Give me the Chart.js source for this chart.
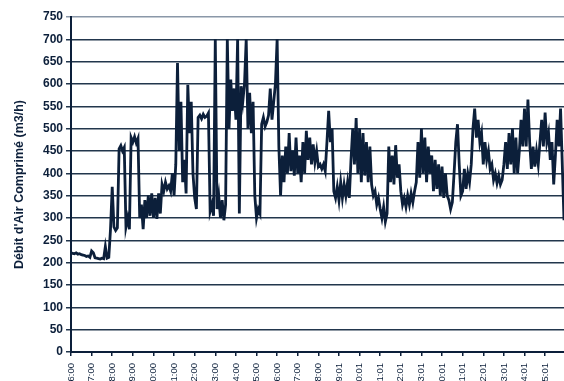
<!DOCTYPE html>
<html>
<head>
<meta charset="utf-8">
<script src="https://cdn.jsdelivr.net/npm/chart.js@4"></script>
<style>
  html, body { margin: 0; padding: 0; background: #ffffff; overflow: hidden; }
  #wrap { width: 564px; height: 381px; }
</style>
</head>
<body>
<div id="wrap"><canvas id="c" width="564" height="381"></canvas></div>
<script>
// Hour labels along the time axis (one tick every 60 minutes from 6:00)
const hourLabels = [
  "6:00", "7:00", "8:00", "9:00", "10:00", "11:00", "12:00", "13:00",
  "14:00", "15:00", "16:00", "17:00", "18:00", "19:01", "20:01", "21:01",
  "22:01", "23:01", "0:01", "1:01", "2:01", "3:01", "4:01", "5:01"
];

// Sampling interval of the recorded flow, in minutes
const stepMinutes = 5;

// Compressed-air flow readings (m3/h), one every 5 minutes from 6:00
const flow = [
  222, 221, 220, 222, 219, 220, 218, 217, 216, 214, 215, 212, 226, 222, 211, 210,
  209, 208, 210, 209, 236, 210, 212, 275, 370, 280, 272, 278, 455, 462, 450, 458,
  280, 300, 275, 480, 470, 482, 468, 478, 300, 330, 275, 340, 300, 350, 305, 355,
  300, 345, 298, 355, 310, 375, 360, 380, 365, 372, 360, 400, 350, 420, 647, 450,
  560, 380, 430, 355, 598, 490, 560, 400, 345, 320, 525, 530, 522, 532, 525, 528,
  535, 315, 330, 305, 700, 320, 350, 300, 340, 295, 330, 700, 500, 610, 540, 590,
  520, 700, 310, 595, 560, 600, 700, 500, 580, 490, 560, 350, 300, 320, 310, 510,
  525, 505, 515, 530, 590, 520, 560, 600, 700, 460, 350, 440, 380, 460, 400, 490,
  405, 450, 395, 480, 400, 440, 380, 470, 400, 495, 430, 480, 420, 465, 425, 450,
  415, 420, 410, 420, 405, 470, 540, 470, 500, 360, 345, 370, 340, 380, 345, 375,
  350, 380, 345, 430, 500, 420, 524, 400, 500, 380, 490, 395, 470, 380, 460, 375,
  350, 360, 330, 345, 320, 300, 325, 292, 310, 460, 380, 440, 375, 463, 390, 420,
  360, 330, 345, 325, 350, 330, 355, 335, 360, 380, 470, 390, 500, 400, 480, 380,
  460, 400, 440, 360, 430, 365, 420, 350, 415, 345, 400, 350, 340, 320, 335, 400,
  470, 510, 420, 350, 360, 410, 365, 400, 380, 420, 500, 545, 480, 520, 470, 490,
  420, 470, 430, 450, 410, 420, 385, 400, 378, 395, 375, 385, 420, 470, 410, 490,
  420, 500, 400, 480, 400, 450, 520, 460, 545, 460, 565, 470, 410, 460, 415, 450,
  420, 470, 520, 460, 536, 470, 490, 430, 470, 375, 440, 520, 460, 545, 420, 295
];

const points = flow.map((v, i) => ({ x: i * stepMinutes, y: v }));

const ink = '#0c1f3a';
const family = '"Liberation Sans", Arial, Helvetica, sans-serif';

new Chart(document.getElementById('c').getContext('2d'), {
  type: 'line',
  data: {
    datasets: [{
      data: points,
      borderColor: ink,
      borderWidth: 2.8,
      borderJoinStyle: 'miter',
      pointRadius: 0,
      tension: 0,
      fill: false
    }]
  },
  options: {
    responsive: false,
    animation: false,
    events: [],
    layout: { padding: { top: 17, right: 0, left: 0, bottom: 0 } },
    plugins: { legend: { display: false }, tooltip: { enabled: false } },
    scales: {
      x: {
        type: 'linear',
        min: 0,
        max: 1435,
        afterFit(scale) { scale.height = 29; },
        grid: { drawOnChartArea: false, drawTicks: true, tickLength: 4, color: ink, lineWidth: 1.5 },
        border: { display: true, color: ink, width: 2 },
        ticks: {
          stepSize: 60,
          includeBounds: false,
          autoSkip: false,
          minRotation: 90,
          maxRotation: 90,
          padding: 7,
          color: ink,
          font: { family: family, size: 9.5 },
          callback: (v) => hourLabels[Math.round(v / 60)]
        }
      },
      y: {
        min: 0,
        max: 750,
        afterFit(scale) { scale.width = 71; },
        grid: {
          color: (c) => (c.tick && c.tick.value === 750) ? '#8a97a8' : '#22364d',
          lineWidth: 1.5,
          drawTicks: true,
          tickLength: 5
        },
        border: { display: true, color: ink, width: 2 },
        ticks: {
          stepSize: 50,
          padding: 3,
          color: ink,
          font: { family: family, size: 12, weight: 'bold' }
        },
        title: {
          display: true,
          text: "Débit d'Air Comprimé (m3/h)",
          color: ink,
          font: { family: family, size: 12.5, weight: 'bold' },
          padding: { top: 12.5, bottom: 0 }
        }
      }
    }
  }
});
</script>
</body>
</html>
